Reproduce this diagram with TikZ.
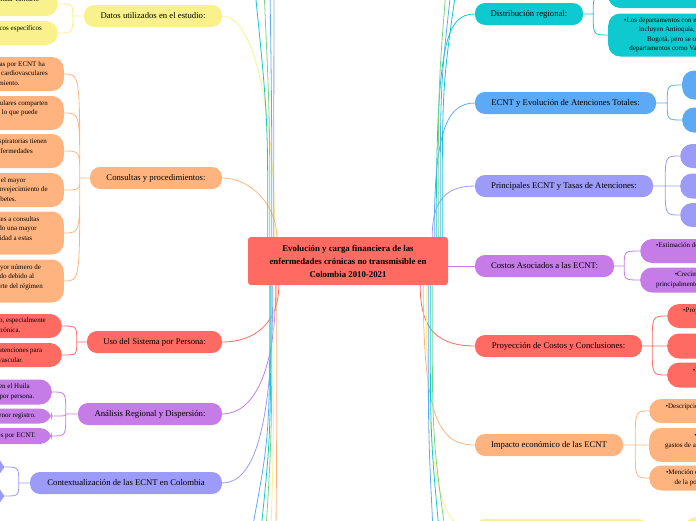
\documentclass[tikz,border=0pt]{standalone}
\usepackage{fontspec}
\setmainfont{Liberation Serif}
\usetikzlibrary{positioning,calc}

\definecolor{mmRed}{RGB}{255,106,98}
\definecolor{mmOrange}{RGB}{255,180,128}
\definecolor{mmYellow}{RGB}{249,242,140}
\definecolor{mmPurple}{RGB}{198,124,230}
\definecolor{mmLilac}{RGB}{156,155,247}
\definecolor{mmBlue}{RGB}{92,170,245}
\definecolor{mmTeal}{RGB}{14,202,208}
\definecolor{mmGreen}{RGB}{118,214,128}

\tikzset{
  topic/.style={rounded corners=10pt, minimum height=22pt, inner sep=0pt, font=\fontsize{8.7}{10}\selectfont},
  leaf/.style={rounded corners=12pt, minimum width=198pt, inner xsep=16pt, inner ysep=3pt, align=center, font=\fontsize{7}{9.5}\selectfont},
  blank/.style={leaf},
  link/.style={line width=0.8pt},
}

\begin{document}
\begin{tikzpicture}[x=1pt, y=-1pt]
  \useasboundingbox (0,0) rectangle (696,520);
  \clip (0,0) rectangle (696,520);

  % central topic
  \node[fill=mmRed, rounded corners=3pt, minimum width=200pt, minimum height=48pt, align=center,
        font=\bfseries\fontsize{8.8}{13}\selectfont] (title) at (348,261)
        {Evolución y carga financiera de las\\enfermedades crónicas no transmisible en\\Colombia 2010-2021};

  % main topics, left
  \node[topic, fill=mmYellow, minimum width=138pt] (datos) at (153,16) {Datos utilizados en el estudio:};
  \node[topic, fill=mmOrange, minimum width=132pt] (consultas) at (156,178) {Consultas y procedimientos:};
  \node[topic, fill=mmRed, minimum width=135pt] (uso) at (154.5,342) {Uso del Sistema por Persona:};
  \node[topic, fill=mmPurple, minimum width=144pt] (analisis) at (150,414) {Análisis Regional y Dispersión:};
  \node[topic, fill=mmLilac, minimum width=192pt] (contexto) at (126,483) {Contextualización de las ECNT en Colombia};

  % main topics, right
  \node[topic, fill=mmTeal, minimum width=108pt] (distrib) at (529,14) {Distribución regional:};
  \node[topic, fill=mmBlue, minimum width=181pt] (evol) at (565.5,103) {ECNT y Evolución de Atenciones Totales:};
  \node[topic, fill=mmLilac, minimum width=178pt] (princ) at (564,186) {Principales ECNT y Tasas de Atenciones:};
  \node[topic, fill=mmPurple, minimum width=139pt] (costos) at (544.5,266) {Costos Asociados a las ECNT:};
  \node[topic, fill=mmRed, minimum width=167pt] (proy) at (558.5,346) {Proyección de Costos y Conclusiones:};
  \node[topic, fill=mmOrange, minimum width=148pt] (impacto) at (549,445) {Impacto económico de las ECNT};
  \node[topic, fill=mmYellow, minimum width=173pt] (cierre) at (561.5,530) {};

  % leaves of Datos
  \node[leaf, fill=mmYellow, anchor=east, minimum height=24pt] (d1) at (58,4)
    {•Información de los RIPS, SISPRO y el Manual Tarifario\\SOAT.};
  \node[leaf, fill=mmYellow, anchor=east, minimum height=24pt] (d2) at (58,33)
    {•Las atenciones se agruparon según diagnósticos específicos\\de ECNT.};

  % leaves of Consultas
  \node[leaf, fill=mmOrange, anchor=east, minimum height=34pt] (c1) at (64,74)
    {•Entre 2010 y 2021, el número de consultas por ECNT ha\\crecido de forma sostenida, en especial las cardiovasculares\\las que presentan el mayor crecimiento.};
  \node[leaf, fill=mmOrange, anchor=east, minimum height=34pt] (c2) at (64,113)
    {•Las enfermedades renales y las cardiovasculares comparten\\factores de riesgo como la hipertensión, lo que puede\\explicar su aumento.};
  \node[leaf, fill=mmOrange, anchor=east, minimum height=34pt] (c3) at (64,151)
    {•Las enfermedades crónicas de las vías respiratorias tienen\\una tendencia similar a la de otras enfermedades\\crónicas.};
  \node[leaf, fill=mmOrange, anchor=east, minimum height=34pt] (c4) at (64,190)
    {•La hipertensión arterial ha registrado el mayor\\número de consultas, asociado con el mayor envejecimiento de\\la población y al aumento de la diabetes.};
  \node[leaf, fill=mmOrange, anchor=east, minimum height=43pt] (c5) at (64,233)
    {•El aumento en el acceso de los pacientes a consultas\\especializadas y de control ha permitido una mayor\\detección temprana y mayor continuidad a estas\\enfermedades.};
  \node[leaf, fill=mmOrange, anchor=east, minimum height=43pt] (c6) at (64,281)
    {•El régimen contributivo presenta el mayor número de\\procedimientos realizados, aumentando debido al\\mayor número de afiliados que hacen parte del régimen\\contributivo.};

  % leaves of Uso
  \node[leaf, fill=mmRed, anchor=east, minimum height=24pt] (u1) at (62,326)
    {•El uso del sistema por persona ha aumentado, especialmente\\en pacientes con enfermedad renal crónica.};
  \node[leaf, fill=mmRed, anchor=east, minimum height=24pt] (u2) at (62,355)
    {•Los pacientes con ECNT requieren más atenciones para\\el control de la enfermedad cardiovascular.};

  % leaves of Analisis
  \node[leaf, fill=mmPurple, anchor=east, minimum height=25pt] (a1) at (52,392)
    {•Se registra el mayor número de atenciones en el Huila\\y Caldas, con más de diez atenciones anuales por persona.};
  \node[leaf, fill=mmPurple, anchor=east, minimum height=15pt] (a2) at (52,416)
    {•Departamentos como Vaupés y Guainía presentan el menor registro.};
  \node[leaf, fill=mmPurple, anchor=east, minimum height=16pt] (a3) at (52,436)
    {•Existe una alta dispersión en el número de atenciones por ECNT.};

  % leaves of Contexto
  \node[blank, fill=mmLilac, anchor=east, minimum height=19pt] (k1) at (4,467) {};
  \node[blank, fill=mmLilac, anchor=east, minimum height=19pt] (k2) at (4,496) {};

  % leaves of Distribucion
  \node[blank, fill=mmTeal, anchor=west, minimum height=26pt] (r1) at (608,-5) {};
  \node[leaf, fill=mmTeal, anchor=west, minimum height=43pt] (r2) at (608,35)
    {•Los departamentos con mayor número de atenciones por ECNT\\incluyen Antioquia, Valle del Cauca, Cundinamarca y\\Bogotá, pero se observa una gran diferencia con\\departamentos como Vaupés, Guainía, Vichada y Amazonas.};

  % leaves of Evolucion and Principales
  \node[blank, fill=mmBlue, anchor=west, minimum height=29pt] (e1) at (682,85) {};
  \node[blank, fill=mmBlue, anchor=west, minimum height=25pt] (e2) at (682,120) {};
  \node[blank, fill=mmLilac, anchor=west, minimum height=24pt] (p1) at (680,156) {};
  \node[blank, fill=mmLilac, anchor=west, minimum height=25pt] (p2) at (680,186) {};
  \node[blank, fill=mmLilac, anchor=west, minimum height=24pt] (p3) at (680,215) {};

  % leaves of Costos
  \node[leaf, fill=mmPurple, anchor=west, minimum height=24pt] (s1) at (640,251)
    {•Estimación de los costos de atención de las ECNT en el país\\entre 2010 y 2021.};
  \node[leaf, fill=mmPurple, anchor=west, minimum height=25pt] (s2) at (640,280)
    {•Crecimiento sostenido de los costos asociados,\\principalmente por enfermedades cardiovasculares y renales.};

  % leaves of Proyeccion
  \node[leaf, fill=mmRed, anchor=west, minimum height=24pt] (y1) at (667,316)
    {•Proyección de los costos de las ECNT para los próximos años\\según la tendencia observada.};
  \node[blank, fill=mmRed, anchor=west, minimum height=25pt] (y2) at (667,346) {};
  \node[leaf, fill=mmRed, anchor=west, minimum height=25pt] (y3) at (667,375)
    {•Importancia de fortalecer la prevención y el control\\de las ECNT en Colombia.};

  % leaves of Impacto
  \node[leaf, fill=mmOrange, anchor=west, minimum height=24pt] (i1) at (649,411)
    {•Descripción del impacto económico de las ECNT sobre el\\sistema de salud.};
  \node[leaf, fill=mmOrange, anchor=west, minimum height=34pt] (i2) at (649,445)
    {•Presentación de los costos directos asociados a los\\gastos de atención, medicamentos, exámenes y procedimientos médicos\\de las ECNT.};
  \node[leaf, fill=mmOrange, anchor=west, minimum height=25pt] (i3) at (649,478)
    {•Mención de la carga financiera que representan las ECNT\\de la población colombiana para el sistema de salud.};
  \node[blank, fill=mmYellow, anchor=west, minimum height=24pt] (z1) at (684,529) {};

  % junctions
  \coordinate (datosJ) at ($(datos.west)+(-11,0)$);
  \coordinate (consJ) at ($(consultas.west)+(-10,0)$);
  \coordinate (usoJ) at ($(uso.west)+(-10,0)$);
  \coordinate (analJ) at ($(analisis.west)+(-12,0)$);
  \coordinate (contJ) at ($(contexto.west)+(-11,0)$);
  \coordinate (distJ) at ($(distrib.east)+(10,0)$);
  \coordinate (evolJ) at ($(evol.east)+(11,0)$);
  \coordinate (princJ) at ($(princ.east)+(12,0)$);
  \coordinate (costJ) at ($(costos.east)+(10,0)$);
  \coordinate (proyJ) at ($(proy.east)+(10,0)$);
  \coordinate (impJ) at ($(impacto.east)+(12,0)$);
  \coordinate (cierJ) at ($(cierre.east)+(12,0)$);

  % center to main topics
  \draw[link, mmYellow] (datos.east) .. controls +(35,0) and +(0,-110) .. ($(title.north west)+(27,0)$);
  \draw[link, mmOrange] (consultas.east) .. controls +(30,0) and +(0,-30) .. ($(title.north west)+(29,0)$);
  \draw[link, mmRed] ($(title.south west)+(31,0)$) .. controls +(0,40) and +(30,0) .. (uso.east);
  \draw[link, mmPurple] ($(title.south west)+(28,0)$) .. controls +(0,90) and +(30,0) .. (analisis.east);
  \draw[link, mmLilac] ($(title.south west)+(25,0)$) .. controls +(0,150) and +(30,0) .. (contexto.east);
  \draw[link, mmTeal] ($(title.north east)+(-12,0)$) .. controls +(0,-190) and +(-30,0) .. (distrib.west);
  \draw[link, mmBlue] ($(title.north east)+(-14,0)$) .. controls +(0,-100) and +(-30,0) .. (evol.west);
  \draw[link, mmLilac] ($(title.north east)+(-16,0)$) .. controls +(0,-35) and +(-30,0) .. (princ.west);
  \draw[link, mmPurple] (title.east |- costos.west) -- (costos.west);
  \draw[link, mmRed] ($(title.south east)+(-28,0)$) .. controls +(0,35) and +(-45,0) .. (proy.west);
  \draw[link, mmOrange] ($(title.south east)+(-25,0)$) .. controls +(0,135) and +(-35,0) .. (impacto.west);
  \draw[link, mmYellow] ($(title.south east)+(-22,0)$) .. controls +(0,215) and +(-30,0) .. (cierre.west);

  % links to topics outside the frame
  \coordinate (upL1) at (255,-10);
  \coordinate (upL2) at (264,-10);
  \coordinate (upL3) at (270,-10);
  \coordinate (upL4) at (274,-10);
  \draw[link, mmTeal] ($(title.north west)+(20,0)$) .. controls +(0,-120) .. (upL1);
  \draw[link, mmGreen] ($(title.north west)+(22,0)$) .. controls +(0,-120) .. (upL2);
  \draw[link, mmBlue] ($(title.north west)+(24,0)$) .. controls +(0,-120) .. (upL3);
  \draw[link, mmLilac] ($(title.north west)+(26,0)$) .. controls +(0,-120) .. (upL4);
  \coordinate (dnL1) at (252,530);
  \coordinate (dnL2) at (261,530);
  \coordinate (dnL3) at (266,530);
  \coordinate (dnL4) at (271,530);
  \coordinate (dnL5) at (276,530);
  \draw[link, mmBlue] ($(title.south west)+(22,0)$) .. controls +(0,150) .. (dnL1);
  \draw[link, mmTeal] ($(title.south west)+(23,0)$) .. controls +(0,150) .. (dnL2);
  \draw[link, mmGreen] ($(title.south west)+(24,0)$) .. controls +(0,150) .. (dnL3);
  \draw[link, mmYellow] ($(title.south west)+(26,0)$) .. controls +(0,150) .. (dnL4);
  \draw[link, mmOrange] ($(title.south west)+(29,0)$) .. controls +(0,150) .. (dnL5);
  \coordinate (upR1) at (446,-10);
  \coordinate (upR2) at (451,-10);
  \coordinate (upR3) at (456,-10);
  \draw[link, mmGreen] ($(title.north east)+(-10,0)$) .. controls +(0,-150) .. (upR1);
  \draw[link, mmBlue] ($(title.north east)+(-8,0)$) .. controls +(0,-150) .. (upR2);
  \draw[link, mmTeal] ($(title.north east)+(-6,0)$) .. controls +(0,-150) .. (upR3);
  \coordinate (dnR1) at (433,530);
  \coordinate (dnR2) at (439,530);
  \coordinate (dnR3) at (445,530);
  \draw[link, mmBlue] ($(title.south east)+(-20,0)$) .. controls +(0,150) .. (dnR1);
  \draw[link, mmTeal] ($(title.south east)+(-18,0)$) .. controls +(0,150) .. (dnR2);
  \draw[link, mmGreen] ($(title.south east)+(-16,0)$) .. controls +(0,150) .. (dnR3);

  % topics to leaves
  \draw[link, mmYellow] (datos.west) -- (datosJ)
    (datosJ) .. controls (datosJ |- d1.east) .. (d1.east)
    (datosJ) .. controls (datosJ |- d2.east) .. (d2.east);
  \draw[link, mmOrange] (consultas.west) -- (consJ)
    (consJ) .. controls (consJ |- c1.east) .. (c1.east)
    (consJ) .. controls (consJ |- c2.east) .. (c2.east)
    (consJ) .. controls (consJ |- c3.east) .. (c3.east)
    (consJ) .. controls (consJ |- c4.east) .. (c4.east)
    (consJ) .. controls (consJ |- c5.east) .. (c5.east)
    (consJ) .. controls (consJ |- c6.east) .. (c6.east);
  \draw[link, mmRed] (uso.west) -- (usoJ)
    (usoJ) .. controls (usoJ |- u1.east) .. (u1.east)
    (usoJ) .. controls (usoJ |- u2.east) .. (u2.east);
  \draw[link, mmPurple] (analisis.west) -- (analJ)
    (analJ) .. controls (analJ |- a1.east) .. (a1.east)
    (analJ) .. controls (analJ |- a2.east) .. (a2.east)
    (analJ) .. controls (analJ |- a3.east) .. (a3.east);
  \draw[link, mmLilac] (contexto.west) -- (contJ)
    (contJ) .. controls (contJ |- k1.east) .. (k1.east)
    (contJ) .. controls (contJ |- k2.east) .. (k2.east);
  \draw[link, mmTeal] (distrib.east) -- (distJ)
    (distJ) .. controls (distJ |- r1.west) .. (r1.west)
    (distJ) .. controls (distJ |- r2.west) .. (r2.west);
  \draw[link, mmBlue] (evol.east) -- (evolJ)
    (evolJ) .. controls (evolJ |- e1.west) .. (e1.west)
    (evolJ) .. controls (evolJ |- e2.west) .. (e2.west);
  \draw[link, mmLilac] (princ.east) -- (princJ)
    (princJ) .. controls (princJ |- p1.west) .. (p1.west)
    (princJ) -- (p2.west)
    (princJ) .. controls (princJ |- p3.west) .. (p3.west);
  \draw[link, mmPurple] (costos.east) -- (costJ)
    (costJ) .. controls (costJ |- s1.west) .. (s1.west)
    (costJ) .. controls (costJ |- s2.west) .. (s2.west);
  \draw[link, mmRed] (proy.east) -- (proyJ)
    (proyJ) .. controls (proyJ |- y1.west) .. (y1.west)
    (proyJ) -- (y2.west)
    (proyJ) .. controls (proyJ |- y3.west) .. (y3.west);
  \draw[link, mmOrange] (impacto.east) -- (impJ)
    (impJ) .. controls (impJ |- i1.west) .. (i1.west)
    (impJ) -- (i2.west)
    (impJ) .. controls (impJ |- i3.west) .. (i3.west);
  \draw[link, mmYellow] (cierre.east) -- (cierJ)
    (cierJ) .. controls (cierJ |- z1.west) .. (z1.west);
\end{tikzpicture}
\end{document}
